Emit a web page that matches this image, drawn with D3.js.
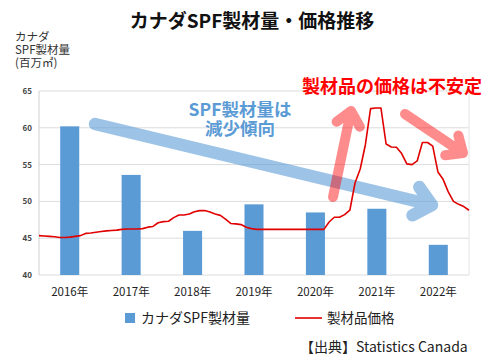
<!DOCTYPE html>
<html>
<head>
<meta charset="utf-8">
<script src="https://cdn.jsdelivr.net/npm/d3@7"></script>
<style>
  body { margin: 0; background: #fff; }
  text { font-family: "Noto Sans CJK JP", "Noto Sans", sans-serif; }
</style>
</head>
<body>
<svg width="500" height="364"></svg>
<script>
// 年ごとの製材量 (百万m3)
var years = ["2016年", "2017年", "2018年", "2019年", "2020年", "2021年", "2022年"];
var volume = [60.2, 53.6, 46.0, 49.6, 48.5, 49.0, 44.1];

// 製材品価格 (月次、2016年1月〜2022年12月、左軸の目盛りに合わせた値)
var price = [
  45.35, 45.3, 45.25, 45.2, 45.1, 45.1, 45.15, 45.25, 45.35, 45.65, 45.7, 45.8,
  45.9, 46.0, 46.05, 46.1, 46.2, 46.25, 46.25, 46.25, 46.3, 46.5, 46.6, 47.1,
  47.25, 47.3, 47.8, 48.15, 48.15, 48.3, 48.6, 48.75, 48.75, 48.55, 48.3, 48.1,
  47.6, 47.0, 46.95, 46.85, 46.5, 46.3, 46.2, 46.2, 46.2, 46.2, 46.2, 46.2,
  46.2, 46.2, 46.2, 46.2, 46.2, 46.2, 46.2, 46.2, 47.2, 47.85, 47.85, 48.2,
  48.8, 52.5, 54.4, 57.7, 62.6, 62.7, 62.7, 57.8, 57.4, 57.35, 56.5, 55.1,
  55.0, 55.5, 58.0, 58.0, 57.5, 54.0, 53.0, 51.3, 50.0, 49.6, 49.3, 48.8
];

var yTicks = [40, 45, 50, 55, 60, 65];

var svg = d3.select("svg");
var pl = 39, pr = 469, pt = 91, pb = 275;

var x = d3.scaleBand().domain(years).range([pl, pr])
  .paddingInner(0.69).paddingOuter(0.345);
var xp = d3.scaleLinear().domain([0, price.length - 1]).range([pl, pr]);
var y = d3.scaleLinear().domain([40, 65]).range([pb, pt]);

// title
svg.append("text").attr("x", 252).attr("y", 28)
  .attr("text-anchor", "middle").attr("font-size", 19).attr("font-weight", "bold")
  .attr("fill", "#111").text("カナダSPF製材量・価格推移");

// y title
var yt = svg.append("text").attr("font-size", 11.5).attr("fill", "#333");
["カナダ", "SPF製材量", "(百万㎥)"].forEach(function(s, i) {
  yt.append("tspan").attr("x", 15).attr("y", 41 + i * 13).text(s);
});

// grid
svg.append("g").selectAll("line").data(yTicks).enter().append("line")
  .attr("x1", pl).attr("x2", pr)
  .attr("y1", d => y(d)).attr("y2", d => y(d))
  .attr("stroke", "#dcdcdc").attr("stroke-width", 1);

svg.append("line").attr("x1", pl).attr("x2", pl).attr("y1", pt).attr("y2", pb)
  .attr("stroke", "#d0d0d0");
svg.append("line").attr("x1", pr).attr("x2", pr).attr("y1", pt).attr("y2", pb)
  .attr("stroke", "#e4e4e4");

// y axis labels
var yAxis = d3.axisLeft(y).tickValues(yTicks).tickSize(0).tickPadding(7);
svg.append("g").attr("transform", "translate(" + pl + ",0)").call(yAxis)
  .call(g => g.select(".domain").remove())
  .selectAll("text").attr("font-size", 8).attr("font-weight", "bold")
  .attr("fill", "#444").attr("font-family", "Liberation Sans, Arial, sans-serif");

// x axis labels
var xAxis = d3.axisBottom(x).tickSize(0).tickPadding(13);
svg.append("g").attr("transform", "translate(0," + pb + ")").call(xAxis)
  .call(g => g.select(".domain").remove())
  .selectAll("text").attr("font-size", 11.5).attr("fill", "#222")
  .attr("font-family", "Noto Sans CJK JP");

// bars
svg.append("g").selectAll("rect").data(volume).enter().append("rect")
  .attr("x", (d, i) => x(years[i]))
  .attr("y", d => y(d))
  .attr("width", x.bandwidth())
  .attr("height", d => pb - y(d))
  .attr("fill", "#5b9bd5");

// arrows
function arrow(g, x1, y1, x2, y2, w, len, color, op) {
  var a = Math.atan2(y2 - y1, x2 - x1), sp = 0.72;
  var b1 = [x2 - len * Math.cos(a - sp), y2 - len * Math.sin(a - sp)];
  var b2 = [x2 - len * Math.cos(a + sp), y2 - len * Math.sin(a + sp)];
  var p = d3.path();
  p.moveTo(x1, y1); p.lineTo(x2, y2);
  p.moveTo(b1[0], b1[1]); p.lineTo(x2, y2); p.lineTo(b2[0], b2[1]);
  g.append("g").attr("opacity", op).append("path").attr("d", p.toString())
    .attr("fill", "none").attr("stroke", color).attr("stroke-width", w)
    .attr("stroke-linecap", "round").attr("stroke-linejoin", "round");
}
var ann = svg.append("g");
arrow(ann, 95, 124, 432, 205, 12.5, 22, "#5b9bd5", 0.6);
arrow(ann, 333, 197, 351, 111, 10, 18, "#ff0000", 0.45);
arrow(ann, 405, 114, 463, 153, 10, 18, "#ff0000", 0.45);

// price line
var line = d3.line().x((d, i) => xp(i)).y(d => y(d));
svg.append("path").datum(price).attr("d", line)
  .attr("fill", "none").attr("stroke", "#e00000").attr("stroke-width", 1.6)
  .attr("stroke-linejoin", "round");

// annotations text
var bt = svg.append("text").attr("text-anchor", "middle")
  .attr("font-size", 17.5).attr("font-weight", "bold").attr("fill", "#5b9bd5");
bt.append("tspan").attr("x", 240).attr("y", 116).text("SPF製材量は");
bt.append("tspan").attr("x", 240).attr("y", 135).text("減少傾向");
svg.append("text").attr("x", 392).attr("y", 93).attr("text-anchor", "middle")
  .attr("font-size", 18).attr("font-weight", "bold").attr("fill", "#ff0000")
  .text("製材品の価格は不安定");

// legend
svg.append("rect").attr("x", 125).attr("y", 313).attr("width", 10).attr("height", 10)
  .attr("fill", "#5b9bd5");
svg.append("text").attr("x", 141).attr("y", 323).attr("font-size", 14).attr("fill", "#222")
  .text("カナダSPF製材量");
svg.append("line").attr("x1", 295).attr("x2", 322).attr("y1", 318).attr("y2", 318)
  .attr("stroke", "#e00000").attr("stroke-width", 1.6);
svg.append("text").attr("x", 327).attr("y", 323).attr("font-size", 13.5).attr("fill", "#222")
  .text("製材品価格");

// source
svg.append("text").attr("x", 300).attr("y", 352).attr("font-size", 14).attr("fill", "#222")
  .text("【出典】Statistics Canada");
</script>
</body>
</html>
